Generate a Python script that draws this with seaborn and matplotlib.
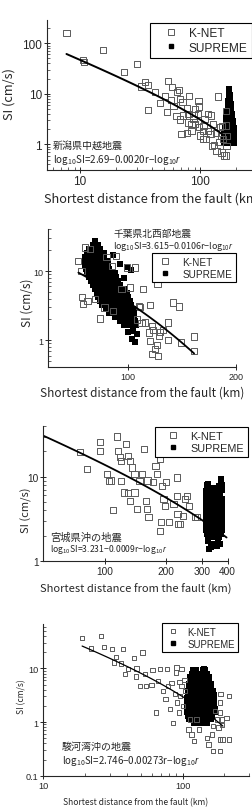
import numpy as np
import matplotlib
matplotlib.use('Agg')
import matplotlib.pyplot as plt
from matplotlib import ticker
from matplotlib.lines import Line2D
import seaborn as sns

sns.set_style('ticks')
plt.rcParams['font.family'] = ['Noto Sans CJK JP', 'DejaVu Sans']
plt.rcParams['mathtext.fontset'] = 'custom'
plt.rcParams['mathtext.rm'] = 'Noto Sans CJK JP'
plt.rcParams['mathtext.it'] = 'Liberation Sans:italic'
plt.rcParams['axes.linewidth'] = 0.8

# ---- panel 1 : 新潟県中越地震 ----
knet1_r = [7.7, 10.7, 10.5, 15.6, 23.3, 30, 32.5, 34.6, 36.9, 36.9, 42, 54.4, 51.4, 46.4, 53,
           58.7, 63.8, 67, 68, 57.4, 60, 63.5, 68, 81, 71.5, 70, 77.5, 77.5, 80, 80, 85, 85,
           88, 96, 98, 91, 91, 98, 100, 107, 105, 109, 112, 117, 123, 122, 117, 129, 131, 136,
           142, 145, 146, 151, 153, 159, 165, 156, 166, 151, 166, 164, 164, 97, 72.5, 88,
           125, 137, 106]
knet1_si = [160, 42, 47, 74, 26.7, 39, 14, 16.9, 15, 4.8, 11, 18.2, 8.9, 6.5, 4.3,
            13.5, 10.7, 12, 7.9, 7.6, 5.8, 3.6, 3.1, 9.2, 6.8, 1.6, 1.7, 5.2, 4, 2.7, 2.5, 1.86,
            3.2, 4, 5.6, 5, 2.5, 2.2, 1.5, 2.3, 1.86, 3.2, 1.27, 4, 3.7, 1.6, 1.86, 2.5, 0.97, 1.7,
            8.8, 1.13, 2.17, 0.69, 2.3, 0.6, 0.6, 1.27, 0.94, 1.45, 1.45, 4.6, 2.35, 7.3, 3.7, 3.7,
            0.94, 0.75, 1.27]
sup1_r = [175, 175, 174, 177, 173, 177, 172, 177,
          171, 176, 180, 170, 175, 180, 168, 174, 180,
          167, 173, 179, 184, 166, 172, 178, 184,
          164, 170, 176, 182, 187, 163, 169, 175, 181, 188,
          161, 167, 173, 180, 186, 191, 160, 166, 172, 179, 185, 191,
          159, 165, 171, 178, 185, 192, 158, 164, 171, 178, 185, 193,
          158, 164, 171, 178, 185, 193, 159, 165, 172, 179, 186, 193]
sup1_si = [12.5, 11, 9.5, 9.5, 8.3, 8.3, 7.2, 7.2,
           6.2, 6.2, 6.2, 5.4, 5.4, 5.4, 4.6, 4.6, 4.6,
           4.0, 4.0, 4.0, 4.0, 3.4, 3.4, 3.4, 3.4,
           2.9, 2.9, 2.9, 2.9, 2.9, 2.5, 2.5, 2.5, 2.5, 2.5,
           2.15, 2.15, 2.15, 2.15, 2.15, 2.15, 1.85, 1.85, 1.85, 1.85, 1.85, 1.85,
           1.6, 1.6, 1.6, 1.6, 1.6, 1.6, 1.4, 1.4, 1.4, 1.4, 1.4, 1.4,
           1.22, 1.22, 1.22, 1.22, 1.22, 1.22, 1.08, 1.08, 1.08, 1.08, 1.08, 1.08]

# ---- panel 2 : 千葉県北西部地震 ----
knet2_r = [73, 74.5, 76.1, 78.6, 74.8, 77.4, 75.3, 81.2, 83.7, 86.3, 87.4, 90.3, 92.8, 96.2,
           99.4, 101.5, 104.8, 107.7, 110.5, 108.2, 111.9, 106, 115.3, 114.6, 115.3, 121,
           116.6, 117.8, 123, 122.2, 120.4, 116.6, 119, 121.5, 125.6, 129.7, 129.4, 134,
           139, 141, 153, 153, 91.2, 109.3]
knet2_si = [14.1, 10.1, 22, 20.8, 4.25, 3.7, 3.3, 3.9, 2.06, 2.98, 15.8, 11.9, 16.6, 5.5,
            11.3, 5.8, 11.3, 3.14, 5.5, 3.0, 1.8, 2.0, 3.2, 1.29, 0.98, 6.5,
            1.6, 1.4, 1.3, 1.15, 0.86, 0.63, 0.74, 0.59, 1.4, 1.8, 1.0, 3.5,
            3.08, 0.93, 1.13, 0.70, 2.66, 1.76]
sup2_r = [81.2, 80, 82.5, 78, 81, 84, 77, 80, 83, 86,
          76, 78.5, 81, 83.5, 86, 76, 78.5, 81, 83.5, 86, 88.5,
          76, 78.5, 81, 83.5, 86, 88.5, 76.5, 79, 81.5, 84, 86.5, 89,
          77, 79.5, 82, 84.5, 87, 89.5, 92, 78, 80.5, 83, 85.5, 88, 90.5, 93,
          79, 81.5, 84, 86.5, 89, 91.5, 94, 80, 82.5, 85, 87.5, 90, 92.5, 95,
          81, 83.5, 86, 88.5, 91, 93.5, 96, 98, 82, 84.5, 87, 89.5, 92, 94.5, 97, 99.5,
          83, 85.5, 88, 90.5, 93, 95.5, 98, 100.5, 84, 86.5, 89, 91.5, 94, 96.5, 99, 101.5,
          85, 87.5, 90, 92.5, 95, 97.5, 100, 102.5, 87, 89.5, 92, 94.5, 97, 99.5, 102, 104.5,
          89, 91.5, 94, 96.5, 99, 101.5, 104, 92, 94.5, 97, 99.5, 102, 104.5,
          95, 97.5, 100, 102.5, 105, 98, 100.5, 103, 105.5,
          103.5, 106, 103, 105, 100, 102.5, 99.5, 91, 95, 98]
sup2_si = [27.2, 23.8, 23.8, 20.8, 20.8, 20.8, 18.2, 18.2, 18.2, 18.2,
           15.9, 15.9, 15.9, 15.9, 15.9, 13.9, 13.9, 13.9, 13.9, 13.9, 13.9,
           12.2, 12.2, 12.2, 12.2, 12.2, 12.2, 10.7, 10.7, 10.7, 10.7, 10.7, 10.7,
           9.35, 9.35, 9.35, 9.35, 9.35, 9.35, 9.35, 8.2, 8.2, 8.2, 8.2, 8.2, 8.2, 8.2,
           7.2, 7.2, 7.2, 7.2, 7.2, 7.2, 7.2, 6.3, 6.3, 6.3, 6.3, 6.3, 6.3, 6.3,
           5.5, 5.5, 5.5, 5.5, 5.5, 5.5, 5.5, 5.5, 4.8, 4.8, 4.8, 4.8, 4.8, 4.8, 4.8, 4.8,
           4.2, 4.2, 4.2, 4.2, 4.2, 4.2, 4.2, 4.2, 3.7, 3.7, 3.7, 3.7, 3.7, 3.7, 3.7, 3.7,
           3.2, 3.2, 3.2, 3.2, 3.2, 3.2, 3.2, 3.2, 2.8, 2.8, 2.8, 2.8, 2.8, 2.8, 2.8, 2.8,
           2.46, 2.46, 2.46, 2.46, 2.46, 2.46, 2.46, 2.15, 2.15, 2.15, 2.15, 2.15, 2.15,
           1.89, 1.89, 1.89, 1.89, 1.89, 1.65, 1.65, 1.65, 1.65,
           1.35, 1.22, 1.05, 0.95, 1.3, 10.3, 11.3, 17, 12.5, 8]

# ---- panel 3 : 宮城県沖の地震 ----
knet3_r = [75.5, 82, 94.5, 94.5, 102.7, 104.6, 107.5, 109.9, 115, 115.7, 118.4, 120.6, 120.6,
           124.7, 127.6, 129.5, 133.5, 136, 129.5, 133.5, 139.7, 140, 143.8, 148, 152.2, 156,
           159.6, 161, 162, 163.9, 172, 177, 180, 187, 190.6, 194, 198, 200, 185.6, 188, 207,
           217, 225, 229, 227, 241, 252, 259, 277, 225, 247, 234, 282]
knet3_si = [19.5, 12.3, 25.6, 20.4, 10.8, 8.97, 9, 4.03, 30.1, 20.4, 17, 15.5, 8.97,
            6.5, 24.4, 17.7, 15.5, 12.9, 6.35, 5.2, 10.8, 6.5, 4.14, 8.97, 10.8, 21.3,
            5.2, 4.14, 9, 3.3, 8.57, 13.5, 10.8, 16.2, 7.8, 5.45, 4.5, 8.57, 2.29, 2.88, 2.88,
            4.74, 5.95, 2.75, 3.6, 3.45, 5.95, 4.5, 3.35, 9.8, 5.45, 2.75, 3.3]
sup3_r = [316, 322, 318, 330, 345, 314, 326, 339, 352, 314, 326, 339, 352, 366,
          314, 326, 339, 352, 366, 376, 314, 326, 339, 352, 366, 376,
          314, 326, 339, 352, 366, 376, 314, 326, 339, 352, 366, 376,
          314, 326, 339, 352, 366, 376, 314, 326, 339, 352, 366, 376,
          314, 326, 339, 352, 366, 376, 314, 326, 339, 352, 366, 376,
          314, 326, 339, 352, 366, 376, 314, 326, 339, 352, 366, 376,
          318, 330, 343, 357, 370, 322, 335, 350, 364,
          372, 370, 374, 368, 376, 362,
          320, 340, 360, 330, 355, 368, 325]
sup3_si = [7.9, 8.2, 7.35, 7.35, 7.35, 6.68, 6.68, 6.68, 6.68, 6.07, 6.07, 6.07, 6.07, 6.07,
           5.51, 5.51, 5.51, 5.51, 5.51, 5.51, 5.01, 5.01, 5.01, 5.01, 5.01, 5.01,
           4.55, 4.55, 4.55, 4.55, 4.55, 4.55, 4.14, 4.14, 4.14, 4.14, 4.14, 4.14,
           3.76, 3.76, 3.76, 3.76, 3.76, 3.76, 3.42, 3.42, 3.42, 3.42, 3.42, 3.42,
           3.11, 3.11, 3.11, 3.11, 3.11, 3.11, 2.82, 2.82, 2.82, 2.82, 2.82, 2.82,
           2.57, 2.57, 2.57, 2.57, 2.57, 2.57, 2.33, 2.33, 2.33, 2.33, 2.33, 2.33,
           2.12, 2.12, 2.12, 2.12, 2.12, 1.93, 1.93, 1.93, 1.93,
           9.5, 8.5, 8.0, 7.5, 7.0, 7.8,
           1.75, 1.6, 1.65, 1.45, 1.5, 1.6, 1.39]

# ---- panel 4 : 駿河湾沖の地震 ----
knet4_r = [18.9, 21.9, 25.9, 27.4, 31, 32.2, 33.2, 37.5, 38.5, 40.4, 36.1, 45, 46.8, 46.1,
           49.5, 51.7, 53.7, 54.6, 59.8, 61, 66.9, 68.7, 64.3, 72.6, 75.6, 77.2, 78.6, 81,
           83.5, 85.6, 88, 89.6, 90.5, 91.6, 95.8, 94.6, 98.5, 104, 101, 110.2, 116, 120.7,
           113, 126, 131.6, 149.4, 153.5, 164.6, 185.7, 162, 180.7, 185.7, 193.8, 187.8,
           185.7, 191.6, 191.6, 176, 171, 166, 207, 216, 185, 216, 98, 95, 103]
knet4_si = [36.7, 23.5, 40.5, 25.2, 22.9, 12.9, 16.4, 22.9, 7.8, 9.6, 12.3, 15.7, 9.97, 7.06,
            4.7, 19.8, 7.8, 4.7, 4.85, 9.3, 5.85, 9.65, 1.5, 3.8, 2.65, 9.65, 4.7, 1.73,
            5.4, 0.97, 3.3, 8.4, 10.4, 2.3, 3.06, 1.5, 4.7, 3.8, 1.99, 0.73, 0.59, 0.44,
            1.12, 1.12, 0.73, 0.51, 0.38, 0.29, 0.29, 0.59, 0.79, 0.475, 0.475, 3.3,
            1.5, 1.12, 0.87, 1.12, 1.6, 0.84, 1.2, 3.06, 2.3, 0.47, 9.6, 5.5, 6]
sup4_r = [118, 124, 116, 122, 127, 114, 120, 126, 113, 119, 125, 130,
          112, 118, 124, 130, 111, 117, 123, 129, 110, 116, 122, 128, 109, 115, 121, 128,
          143, 140, 146, 139, 145, 151, 138, 144, 150, 156, 137, 143, 149, 155,
          136, 142, 148, 155, 161, 135, 141, 147, 154, 161,
          134, 140, 147, 154, 161, 166, 134, 140, 147, 154, 161, 167,
          108, 114, 121, 128, 134, 141, 148, 155, 162, 168,
          108, 114, 121, 128, 134, 141, 148, 155, 162, 169,
          107, 113, 120, 127, 134, 141, 148, 155, 162, 169,
          107, 113, 120, 127, 134, 141, 148, 155, 162, 170,
          108, 114, 121, 128, 135, 142, 149, 156, 163, 171,
          109, 115, 122, 129, 136, 143, 150, 157, 164,
          111, 118, 125, 132, 139, 146, 153, 160, 120, 130, 140, 150]
sup4_si = [9.25, 9.25, 7.95, 7.95, 7.95, 6.85, 6.85, 6.85, 5.9, 5.9, 5.9, 5.9,
           5.06, 5.06, 5.06, 5.06, 4.36, 4.36, 4.36, 4.36, 3.75, 3.75, 3.75, 3.75, 3.22, 3.22, 3.22, 3.22,
           9.7, 9.25, 9.25, 7.95, 7.95, 7.95, 6.85, 6.85, 6.85, 6.85, 5.9, 5.9, 5.9, 5.9,
           5.06, 5.06, 5.06, 5.06, 5.06, 4.36, 4.36, 4.36, 4.36, 4.36,
           3.75, 3.75, 3.75, 3.75, 3.75, 3.75, 3.22, 3.22, 3.22, 3.22, 3.22, 3.22,
           2.77, 2.77, 2.77, 2.77, 2.77, 2.77, 2.77, 2.77, 2.77, 2.77,
           2.39, 2.39, 2.39, 2.39, 2.39, 2.39, 2.39, 2.39, 2.39, 2.39,
           2.05, 2.05, 2.05, 2.05, 2.05, 2.05, 2.05, 2.05, 2.05, 2.05,
           1.76, 1.76, 1.76, 1.76, 1.76, 1.76, 1.76, 1.76, 1.76, 1.76,
           1.52, 1.52, 1.52, 1.52, 1.52, 1.52, 1.52, 1.52, 1.52, 1.52,
           1.31, 1.31, 1.31, 1.31, 1.31, 1.31, 1.31, 1.31, 1.31,
           1.12, 1.12, 1.12, 1.12, 1.12, 1.12, 1.12, 1.12, 0.97, 0.97, 0.97, 0.97]

# regression log10SI = a - b*r - log10(r), drawn over the r range of the fit line
fit_a = [2.69, 3.615, 3.231, 2.746]
fit_b = [0.0020, 0.0106, 0.0009, 0.00273]
fit_rmin = [7.7, 73, 50, 19]
fit_rmax = [156, 153, 395, 195]

quake_names = ['新潟県中越地震', '千葉県北西部地震', '宮城県沖の地震', '駿河湾沖の地震']
eq_texts = ['2.69\u22120.0020r\u2212log', '3.615\u22120.0106r\u2212log',
            '3.231\u22120.0009r\u2212log', '2.746\u22120.00273r\u2212log']

W, H = 253, 812
fig = plt.figure(figsize=(W / 100, H / 100), dpi=100)


def add_ax(left, top, right, bottom):
    return fig.add_axes([left / W, 1 - bottom / H, (right - left) / W, (bottom - top) / H])


def panel(ax, kr, ksi, sr, ssi, i, ksize, ssize, lw):
    sns.scatterplot(x=sr, y=ssi, ax=ax, marker='s', s=ssize, color='black', linewidth=0,
                    legend=False)
    sns.scatterplot(x=kr, y=ksi, ax=ax, marker='s', s=ksize, color='white',
                    edgecolor='#5a5a5a', linewidth=0.7, legend=False)
    ax.collections[-1].set_facecolor('none')
    r = np.geomspace(fit_rmin[i], fit_rmax[i], 60)
    si = 10 ** (fit_a[i] - fit_b[i] * r - np.log10(r))
    sns.lineplot(x=r, y=si, ax=ax, color='black', lw=lw, sort=False)
    ax.set_xscale('log')
    ax.set_yscale('log')
    sns.despine(ax=ax)


def ticks(ax, xt, yt, xminor, yminor, fs):
    ax.xaxis.set_major_locator(ticker.FixedLocator(xt))
    ax.xaxis.set_major_formatter(ticker.FixedFormatter([f'{v:g}' for v in xt]))
    ax.yaxis.set_major_locator(ticker.FixedLocator(yt))
    ax.yaxis.set_major_formatter(ticker.FixedFormatter([f'{v:g}' for v in yt]))
    ax.xaxis.set_minor_locator(ticker.LogLocator(subs=np.arange(2, 10)) if xminor else ticker.NullLocator())
    ax.yaxis.set_minor_locator(ticker.LogLocator(subs=np.arange(2, 10)) if yminor else ticker.NullLocator())
    ax.xaxis.set_minor_formatter(ticker.NullFormatter())
    ax.yaxis.set_minor_formatter(ticker.NullFormatter())
    ax.tick_params(which='major', direction='inout', length=4, width=0.7, labelsize=fs,
                   pad=1.5, labelfontfamily='Liberation Sans')
    ax.tick_params(which='minor', direction='in', length=2, width=0.5)


def labels(ax, fs, xl_x, xl_y, yl_x, yl_y):
    ax.set_xlabel('Shortest distance from the fault (km)', fontsize=fs)
    ax.set_ylabel('SI (cm/s)', fontsize=fs)
    ax.xaxis.label.set_va('center')
    ax.yaxis.label.set_va('center')
    ax.xaxis.set_label_coords(xl_x, xl_y)
    ax.yaxis.set_label_coords(yl_x, yl_y)


def legend(ax, x, y, fs, kms, hl, tp):
    h = [Line2D([], [], ls='none', marker='s', mfc='white', mec='#5a5a5a', mew=0.7, ms=kms),
         Line2D([], [], ls='none', marker='s', color='black', ms=2.2)]
    lg = ax.legend(h, ['K-NET', 'SUPREME'], loc='upper left', bbox_to_anchor=(x, y),
                   frameon=True, fancybox=False, framealpha=1, edgecolor='black',
                   borderaxespad=0, borderpad=0.35, labelspacing=0.2, handlelength=hl,
                   handletextpad=tp, prop={'family': 'Liberation Sans', 'size': fs})
    lg.get_frame().set_linewidth(0.8)
    lg.set_clip_on(False)


def note(ax, i, x, y1, y2, fs1, fs2):
    ax.text(x, y1, quake_names[i], transform=ax.transAxes, fontsize=fs1, va='center', ha='left')
    ax.text(x, y2, 'log$_{\\rm 10}$SI=' + eq_texts[i] + '$_{\\rm 10}$$\\it{r}$',
            transform=ax.transAxes, fontsize=fs2, va='center', ha='left')


# panel 1
ax1 = add_ax(47, 21, 258, 171)
panel(ax1, knet1_r, knet1_si, sup1_r, sup1_si, 0, 20, 13, 1.4)
ax1.set_xlim(5.3, 304)
ax1.set_ylim(0.31, 289)
ticks(ax1, [10, 100], [1, 10, 100], True, True, 8.5)
labels(ax1, 9.2, 0.5, -0.187, -0.18, 0.51)
legend(ax1, 0.488, 0.98, 8.6, 4.3, 2.8, 0.1)
note(ax1, 0, 0.028, 0.167, 0.073, 7.2, 7.1)

# panel 2
ax2 = add_ax(47.7, 230, 236, 368)
panel(ax2, knet2_r, knet2_si, sup2_r, sup2_si, 1, 20, 17, 1.3)
ax2.set_xlim(60, 200)
ax2.set_ylim(0.41, 40.6)
ticks(ax2, [100, 200], [1, 10], False, True, 6.5)
labels(ax2, 8.5, 0.5, -0.181, -0.11, 0.47)
legend(ax2, 0.552, 0.824, 7.2, 4.0, 2.0, 0.7)
note(ax2, 1, 0.347, 0.971, 0.879, 7.0, 6.4)

# panel 3
ax3 = add_ax(43.3, 427, 227.7, 562)
panel(ax3, knet3_r, knet3_si, sup3_r, sup3_si, 2, 20, 13, 1.3)
ax3.set_xlim(50, 400)
ax3.set_ylim(1, 40)
ticks(ax3, [100, 200, 300, 400], [1, 10], False, True, 7.3)
labels(ax3, 8.0, 0.5, -0.207, -0.09, 0.38)
legend(ax3, 0.606, 0.993, 7.8, 4.3, 2.6, 0.3)
note(ax3, 2, 0.036, 0.18, 0.089, 7.4, 6.2)

# panel 4
ax4 = add_ax(43.3, 625, 249, 776.7)
panel(ax4, knet4_r, knet4_si, sup4_r, sup4_si, 3, 10, 13, 0.9)
ax4.set_xlim(10, 300)
ax4.set_ylim(0.1, 67)
ticks(ax4, [10, 100], [0.1, 1, 10], True, True, 6.6)
labels(ax4, 6.1, 0.448, -0.171, -0.103, 0.53)
legend(ax4, 0.575, 1.005, 6.9, 3.2, 1.6, 0.77)
note(ax4, 3, 0.091, 0.198, 0.105, 7.2, 7.0)

fig.savefig('out.png', dpi=100)
